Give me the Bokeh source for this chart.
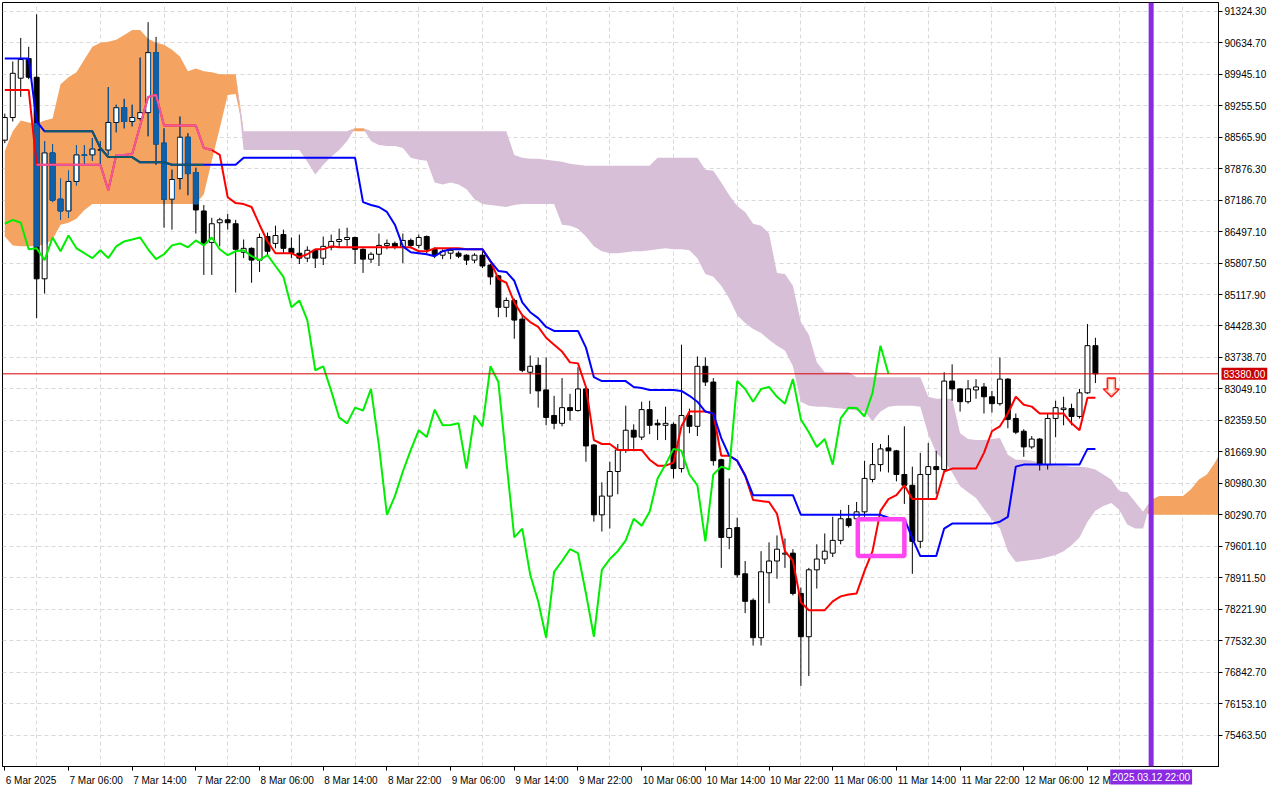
import numpy as np
from bokeh.plotting import figure
from bokeh.models import Range1d, FixedTicker, PrintfTickFormatter, Span, Label
from bokeh.embed import file_html
from bokeh.resources import INLINE

# ---------------- data (H1 bars, bar 0 = 6 Mar 2025 22:00) ----------------
opens = [88501, 88997, 89859, 90290, 89880, 85462, 88221, 87208, 86949, 87596,
         88178, 88178, 88285, 88285, 88889, 89212, 88910, 88975, 89104, 90419,
         88436, 87208, 87660, 88566, 87790, 86949, 86260, 86691, 86755, 86669,
         86044, 86130, 85872, 86389, 86238, 86432, 86130, 86023, 85915, 86087,
         85915, 86152, 86281, 86324, 86368, 86109, 85893, 86001, 86195, 86238,
         86152, 86303, 86195, 86389, 86109, 85980, 86023, 86023, 85980, 85872,
         85980, 85764, 85527, 84837, 84988, 84579, 83415, 83566, 83027, 82467,
         82295, 82639, 82575, 83049, 81821, 80290, 80700, 81239, 81713, 82144,
         81993, 82596, 82295, 82252, 82273, 81303, 82467, 82230, 83545, 83200,
         81497, 79795, 80010, 78997, 78416, 77597, 79019, 79278, 79428, 79450,
         78567, 77618, 79084, 79321, 79450, 79730, 80204, 80204, 80355, 81066,
         81390, 81756, 81692, 81174, 80937, 79709, 81174, 81346, 81282, 83221,
         83049, 82769, 83027, 83092, 82877, 82726, 83264, 82402, 82122, 81778,
         81950, 81390, 82402, 82596, 82618, 82446, 82963, 83997]
highs = [89083, 90225, 90742, 90548, 91259, 88480, 88415, 87660, 87833, 88393,
         88393, 88544, 88480, 89665, 89277, 89406, 89277, 90311, 91087, 90764,
         88760, 87854, 89018, 88652, 87898, 87079, 86799, 86799, 86885, 86755,
         86324, 86152, 86454, 86475, 86626, 86540, 86368, 86432, 86174, 86109,
         86389, 86432, 86562, 86583, 86389, 86130, 86044, 86454, 86324, 86281,
         86454, 86346, 86432, 86411, 86152, 86109, 86130, 86066, 86001, 86023,
         86066, 85786, 85548, 85053, 85031, 84665, 83781, 83738, 83738, 82898,
         83286, 82941, 83523, 83092, 81842, 81002, 81454, 81842, 82682, 82273,
         82769, 82790, 82381, 82661, 82316, 84019, 82618, 83760, 83738, 83286,
         81519, 81088, 80226, 79278, 78459, 79493, 79687, 79838, 79773, 79536,
         78696, 79127, 79644, 79881, 80247, 80398, 80506, 80571, 81476, 81864,
         81842, 82036, 81713, 82230, 81346, 81648, 81864, 81692, 83415, 83588,
         83070, 83243, 83264, 83178, 83006, 83738, 83286, 82510, 82166, 82015,
         81971, 82510, 82790, 82877, 82726, 83049, 84471, 84170]
lows = [88436, 88910, 89449, 89837, 84600, 85139, 87143, 86755, 86799, 87510,
        87962, 88049, 87962, 88178, 88673, 88760, 88803, 88932, 88587, 87962,
        86583, 86540, 87423, 87294, 86454, 85548, 85548, 86174, 86540, 85161,
        85915, 85376, 85613, 85958, 86130, 86023, 85915, 85786, 85829, 85699,
        85764, 86087, 86152, 86174, 85786, 85592, 85807, 85743, 86109, 86109,
        85807, 86130, 86130, 86023, 85915, 85893, 85893, 85915, 85764, 85807,
        85699, 85333, 84622, 84622, 84148, 83415, 82941, 82639, 82252, 82166,
        82230, 82359, 82553, 81454, 80140, 79924, 79989, 80743, 81648, 81735,
        81928, 82058, 81928, 81928, 81088, 81217, 82079, 82015, 83113, 81368,
        79127, 79536, 78911, 78135, 77425, 77425, 78351, 78890, 79127, 78523,
        76541, 76757, 78674, 79213, 79364, 79644, 80010, 80140, 80247, 81002,
        81239, 81217, 81023, 80528, 78997, 79558, 80614, 80743, 81217, 82790,
        82553, 82726, 82833, 82510, 82532, 82682, 82187, 82058, 81562, 81735,
        81260, 81282, 81993, 82252, 82252, 82402, 82941, 83178]
closes = [88997, 89966, 90268, 89880, 85462, 88221, 87186, 86949, 87596, 88178,
          88167, 88307, 88290, 88889, 89212, 88910, 88997, 89104, 90419, 88415,
          87208, 87639, 88566, 87768, 86971, 86238, 86669, 86755, 86691, 86109,
          86130, 85872, 86368, 86066, 86411, 86130, 86023, 85915, 86087, 85915,
          86174, 86281, 86324, 86368, 86109, 85893, 86001, 86195, 86238, 86152,
          86303, 86195, 86368, 86109, 85980, 86066, 86087, 85958, 85872, 85980,
          85743, 85505, 84837, 84988, 84558, 83458, 83545, 83006, 82424, 82295,
          82639, 82575, 83049, 81799, 80290, 80700, 81239, 81713, 82144, 81993,
          82596, 82252, 82260, 82295, 81303, 82467, 82230, 83545, 83200, 81476,
          79795, 79989, 78976, 78394, 77597, 79041, 79278, 79536, 79450, 78567,
          77618, 79084, 79321, 79493, 79730, 80204, 80053, 80355, 81088, 81390,
          81735, 81692, 81174, 80937, 79709, 81174, 81346, 81282, 83221, 83049,
          82769, 83049, 83092, 82877, 82726, 83264, 82381, 82101, 81778, 81950,
          81390, 82402, 82639, 82630, 82446, 82963, 83997, 83380]

tenkan = [89600, 89600, 89600, 89600, 87962, 87962, 87962, 87962, 87962, 87962,
          87962, 87962, 87962, 87402, 88178, 88178, 88200, 88824, 89449, 89492,
          88820, 88820, 88820, 88820, 88820, 88329, 88285, 88178, 87251, 87122,
          87100, 87036, 86648, 86281, 86023, 86023, 86023, 85937, 86001, 86109,
          86109, 86174, 86152, 86152, 86152, 86152, 86152, 86152, 86152, 86152,
          86152, 86152, 86066, 86066, 86130, 86130, 86130, 86130, 86109, 86109,
          86109, 85850, 85462, 85376, 84945, 84665, 84514, 84407, 84170, 84019,
          83868, 83631, 83609, 83092, 81928, 81842, 81842, 81713, 81713, 81713,
          81713, 81497, 81368, 81368, 81433, 82230, 82553, 82553, 82553, 82510,
          81584, 81584, 81476, 81153, 80614, 80592, 80571, 80312, 79493, 79278,
          78373, 78200, 78200, 78200, 78394, 78502, 78545, 78567, 79062, 79493,
          80377, 80635, 80721, 80937, 80635, 80635, 80635, 80635, 81239, 81303,
          81303, 81303, 81303, 81648, 82122, 82230, 82510, 82877, 82704, 82661,
          82510, 82510, 82510, 82510, 82295, 82144, 82855, 82855]
kijun = [90290, 90290, 90290, 90290, 88910, 88695, 88695, 88695, 88695, 88695,
         88695, 88695, 88329, 88130, 88130, 88130, 88130, 88016, 88016, 88016,
         88016, 87962, 87962, 87962, 87962, 87962, 87962, 87962, 87962, 87962,
         88113, 88113, 88113, 88113, 88113, 88113, 88113, 88113, 88113, 88113,
         88113, 88113, 88113, 88113, 88113, 87143, 87079, 87036, 86928, 86648,
         86174, 86044, 86023, 86001, 85958, 86066, 86109, 86109, 86109, 86109,
         86109, 85850, 85635, 85613, 85419, 84945, 84730, 84600, 84407, 84321,
         84321, 84321, 84321, 83954, 83307, 83221, 83221, 83221, 83221, 83092,
         83070, 83027, 83027, 83027, 83027, 83006, 82898, 82769, 82553, 82510,
         81971, 81584, 81476, 81153, 80721, 80721, 80721, 80721, 80721, 80721,
         80290, 80290, 80290, 80290, 80290, 80290, 80290, 80290, 80290, 80290,
         80290, 80226, 80204, 80204, 79773, 79385, 79385, 79385, 79989, 80097,
         80097, 80097, 80097, 80097, 80097, 80140, 80247, 81346, 81390, 81390,
         81390, 81390, 81390, 81390, 81390, 81390, 81735, 81735]
# Senkou spans as plotted (already shifted 26 bars forward), bar 0 .. 153
span_a = [88264, 88695, 88932, 88889, 88867, 88932, 88975, 89729, 89880, 89988,
          90268, 90548, 90634, 90656, 90699, 90807, 90915, 90915, 90721, 90634,
          90591, 90484, 90333, 90009, 90074, 90009, 89988, 89945, 89945, 89945,
          88285, 88285, 88285, 88285, 88285, 88285, 88285, 88285, 88027, 87747,
          87962, 88135, 88285, 88480, 88760, 88760, 88480, 88393, 88372, 88372,
          88329, 88113, 88070, 88049, 87574, 87531, 87574, 87531, 87423, 87208,
          87100, 87079, 87057, 87036, 87079, 87100, 87100, 87100, 87100, 87100,
          86648, 86626, 86562, 86389, 86174, 86066, 86023, 86023, 86044, 86066,
          86066, 86087, 86109, 86130, 86109, 86109, 86087, 85915, 85570, 85505,
          85311, 85031, 84665, 84493, 84363, 84277, 84126, 83997, 83889, 83545,
          82769, 82682, 82661, 82661, 82639, 82618, 82596, 82575, 82553, 82338,
          82553, 82661, 82682, 82682, 82682, 82661, 82058, 81648, 81476, 81217,
          80916, 80786, 80657, 80420, 80183, 79989, 79493, 79256, 79278, 79299,
          79321, 79364, 79407, 79493, 79622, 79795, 80140, 80377, 80484, 80549,
          80398, 80075, 79989, 79989, 80614, 80700, 80700, 80700, 80700, 80851,
          81066, 81174, 81433, 81756]
span_b = [86389, 86195, 86174, 86174, 86174, 86217, 86324, 86648, 86691, 86777,
          86971, 87100, 87100, 87100, 87100, 87100, 87100, 87100, 87100, 87100,
          87100, 87100, 87100, 87100, 87100, 87316, 88049, 88760, 89492, 89514,
          88695, 88695, 88695, 88695, 88695, 88695, 88695, 88695, 88695, 88695,
          88695, 88695, 88695, 88695, 88695, 88695, 88695, 88695, 88695, 88695,
          88695, 88695, 88695, 88695, 88695, 88695, 88695, 88695, 88695, 88695,
          88695, 88695, 88695, 88695, 88178, 88113, 88092, 88092, 88070, 88049,
          88027, 87984, 87962, 87941, 87941, 87941, 87941, 87941, 87941, 87941,
          87941, 87941, 88113, 88113, 88113, 88113, 88113, 88113, 87854, 87833,
          87574, 87294, 87057, 86928, 86669, 86626, 86454, 85592, 85570, 85311,
          84514, 84234, 83631, 83415, 83415, 83415, 83415, 83307, 83307, 83307,
          83307, 83307, 83307, 83307, 83307, 83307, 82877, 82833, 82833, 82833,
          82079, 81950, 81928, 81928, 81950, 81971, 81605, 81497, 81497, 81476,
          81433, 81390, 81368, 81368, 81346, 81346, 81325, 81282, 81174, 81066,
          80808, 80786, 80571, 80355, 80290, 80290, 80290, 80290, 80290, 80290,
          80290, 80290, 80290, 80290]

x_label_bars = [0, 8, 16, 24, 32, 40, 48, 56, 64, 72, 80, 88, 96, 104, 112, 120, 128, 136]
x_labels = ["6 Mar 2025", "7 Mar 06:00", "7 Mar 14:00", "7 Mar 22:00", "8 Mar 06:00",
            "8 Mar 14:00", "8 Mar 22:00", "9 Mar 06:00", "9 Mar 14:00", "9 Mar 22:00",
            "10 Mar 06:00", "10 Mar 14:00", "10 Mar 22:00", "11 Mar 06:00", "11 Mar 14:00",
            "11 Mar 22:00", "12 Mar 06:00", "12 Mar 14:00"]
grid_bars = [4, 12, 20, 28, 36, 44, 52, 60, 68, 76, 84, 92, 100, 108, 116, 124, 132, 140, 148]
price_ticks = [75463.5, 76153.1, 76842.7, 77532.3, 78221.9, 78911.5, 79601.1, 80290.7,
               80980.3, 81669.9, 82359.5, 83049.1, 83738.7, 84428.3, 85117.9, 85807.5,
               86497.1, 87186.7, 87876.3, 88565.9, 89255.5, 89945.1, 90634.7, 91324.3]

bid_price = 83380.0
bid_text = "83380.00"
vline_bar = 144
vline_text = "2025.03.12 22:00"
box_bar0, box_bar1, box_top, box_bottom = 107.15, 113.0, 80194, 79386
arrow_bar, arrow_top = 139, 83286

# ---------------- figure ----------------
FW, FH = 1216, 764
X0, X1 = -0.29, 152.46
Y0, Y1 = 74774, 91518
FONT = "Liberation Sans"
FSY = 10
FSX = 10
p = figure(frame_width=FW, frame_height=FH, output_backend="svg", toolbar_location=None,
           x_range=Range1d(X0, X1), y_range=Range1d(Y0, Y1),
           y_axis_location="right", min_border_left=2, min_border_top=2,
           min_border_bottom=18, min_border_right=0)
p.background_fill_color = "white"
p.border_fill_color = "white"
p.outline_line_color = "black"
p.outline_line_width = 1

# price axis
p.yaxis.ticker = FixedTicker(ticks=price_ticks)
p.yaxis.formatter = PrintfTickFormatter(format="%.2f")
p.yaxis.major_label_text_font = FONT
p.yaxis.major_label_text_font_size = f"{FSY}px"
p.yaxis.major_label_text_color = "black"
p.yaxis.major_tick_out = 4
p.yaxis.major_tick_in = 0
p.yaxis.minor_tick_out = 0
p.yaxis.minor_tick_in = 0
p.yaxis.major_label_standoff = 2
p.yaxis.axis_line_color = "black"

# time axis: tick marks at the bar (minor ticks), label text starting at the mark
# (label centred at the mark + half its estimated width)
CW = {"0": .556, "1": .556, "2": .556, "3": .556, "4": .556, "5": .556, "6": .556,
      "7": .556, "8": .556, "9": .556, " ": .278, ":": .278, "M": .833, "a": .556, "r": .333}
px_per_bar = FW / (X1 - X0)
centres = []
overrides = {}
for b, t in zip(x_label_bars, x_labels):
    wpx = sum(CW.get(ch, .556) for ch in t) * FSX
    cpos = round(b + (wpx / 2 + 1) / px_per_bar, 2)
    centres.append(cpos)
    overrides[cpos] = t
p.xaxis.ticker = FixedTicker(ticks=centres, minor_ticks=x_label_bars)
p.xaxis.major_label_overrides = overrides
p.xaxis.major_label_text_font = FONT
p.xaxis.major_label_text_font_size = f"{FSX}px"
p.xaxis.major_label_text_color = "black"
p.xaxis.major_tick_out = 0
p.xaxis.major_tick_in = 0
p.xaxis.minor_tick_out = 4
p.xaxis.minor_tick_in = 0
p.xaxis.minor_tick_line_color = "black"
p.xaxis.major_label_standoff = 4
p.xaxis.axis_line_color = "black"

p.xgrid.ticker = FixedTicker(ticks=grid_bars)
for g in (p.xgrid, p.ygrid):
    g.grid_line_color = "#d9d9d9"
    g.grid_line_dash = "4 3"
    g.grid_line_width = 1

# ---------------- cloud ----------------
A = np.array(span_a, dtype=float)
B = np.array(span_b, dtype=float)
cx = np.arange(len(A))
top = np.maximum(A, B)
p.varea(x=cx, y1=B, y2=top, fill_color="#f4a460")
p.varea(x=cx, y1=A, y2=top, fill_color="#d8bfd8")

# ---------------- candles ----------------
o = np.array(opens, dtype=float)
h = np.array(highs, dtype=float)
l = np.array(lows, dtype=float)
c = np.array(closes, dtype=float)
bars = np.arange(len(c))
bull = c >= o
W = 0.62
p.segment(x0=bars, y0=l, x1=bars, y1=h, line_color="black", line_width=1)
p.vbar(x=bars[bull], bottom=o[bull], top=c[bull], width=W, fill_color="white", line_color="black", line_width=1)
p.vbar(x=bars[~bull], bottom=c[~bull], top=o[~bull], width=W, fill_color="black", line_color="black", line_width=1)

# parts of candles lying inside the sandy-brown cloud are shown in blue (as in the terminal)
CB = "#1060a8"
nb = len(c)
lo_c = B[:nb]
hi_c = A[:nb]
inorange = hi_c > lo_c
btop = np.maximum(o, c)
bbot = np.minimum(o, c)
u0 = np.maximum(btop, lo_c); u1 = np.minimum(h, hi_c)
m = inorange & (u1 > u0)
p.segment(x0=bars[m], y0=u0[m], x1=bars[m], y1=u1[m], line_color=CB, line_width=1)
d0 = np.maximum(l, lo_c); d1 = np.minimum(bbot, hi_c)
m = inorange & (d1 > d0)
p.segment(x0=bars[m], y0=d0[m], x1=bars[m], y1=d1[m], line_color=CB, line_width=1)
b0 = np.maximum(bbot, lo_c); b1 = np.minimum(btop, hi_c)
m = inorange & (b1 > b0) & (~bull)
p.vbar(x=bars[m], bottom=b0[m], top=b1[m], width=W, fill_color=CB, line_color=CB, line_width=1)
m = inorange & (b1 > b0) & bull
for side in (-W / 2, W / 2):
    p.segment(x0=bars[m] + side, y0=b0[m], x1=bars[m] + side, y1=b1[m], line_color=CB, line_width=1)

# ---------------- Ichimoku lines ----------------
tk = np.array(tenkan, dtype=float)
kj = np.array(kijun, dtype=float)
chikou = c[26:]
p.line(x=bars, y=tk, line_color="#ff0000", line_width=2)
p.line(x=bars, y=kj, line_color="#0000ff", line_width=2)
p.line(x=bars[:len(chikou)], y=chikou, line_color="#00ee00", line_width=2)
tk_in = inorange & (tk <= hi_c) & (tk >= lo_c)
kj_in = inorange & (kj <= hi_c) & (kj >= lo_c)
p.line(x=bars, y=np.where(tk_in, tk, np.nan), line_color="#ee5aa0", line_width=2)
p.line(x=bars, y=np.where(kj_in, kj, np.nan), line_color="#0e5c60", line_width=2)

# ---------------- objects ----------------
p.add_layout(Span(location=bid_price, dimension="width", line_color="#dd0000", line_width=1))
p.quad(left=[box_bar0], right=[box_bar1], top=[box_top], bottom=[box_bottom],
       fill_alpha=0, line_color="#ff44f0", line_width=4.5)
sh, hh, sl, hl = 0.5, 1.0, 237, 410
ax = [arrow_bar - sh, arrow_bar + sh, arrow_bar + sh, arrow_bar + hh, arrow_bar,
      arrow_bar - hh, arrow_bar - sh]
ay = [arrow_top, arrow_top, arrow_top - sl, arrow_top - sl, arrow_top - hl,
      arrow_top - sl, arrow_top - sl]
p.patch(x=ax, y=ay, fill_color="white", line_color="#ff2020", line_width=1.6)
ish, ihh = 0.33, 0.72
ax2 = [arrow_bar - ish, arrow_bar + ish, arrow_bar + ish, arrow_bar + ihh, arrow_bar,
       arrow_bar - ihh, arrow_bar - ish]
ay2 = [arrow_top - 35, arrow_top - 35, arrow_top - sl - 30, arrow_top - sl - 30,
       arrow_top - hl + 55, arrow_top - sl - 30, arrow_top - sl - 30]
p.patch(x=ax2, y=ay2, fill_color="white", line_color="#ffaa88", line_width=1)
p.add_layout(Span(location=vline_bar, dimension="height", line_color="#8a2be2", line_width=5))

# ---------------- labels outside the frame (side panel, not clipped) ----------------
price_per_px = (Y1 - Y0) / FH
lab_t = Label(x=vline_bar, y=Y0 - 3 * price_per_px, text=vline_text, text_font=FONT,
              text_font_size=f"{FSX}px", text_color="white", text_align="center",
              text_baseline="top", background_fill_color="#8a2be2")
lab_p = Label(x=FW + 3, x_units="screen", y=bid_price, text=bid_text, text_font=FONT,
              text_font_size=f"{FSY}px", text_color="white", text_align="left",
              text_baseline="middle", background_fill_color="#cc0000")
for lab in (lab_t, lab_p):
    try:
        lab.padding = 2
    except Exception:
        pass
    p.add_layout(lab, "below")

open("out.html", "w").write(file_html(p, INLINE))
